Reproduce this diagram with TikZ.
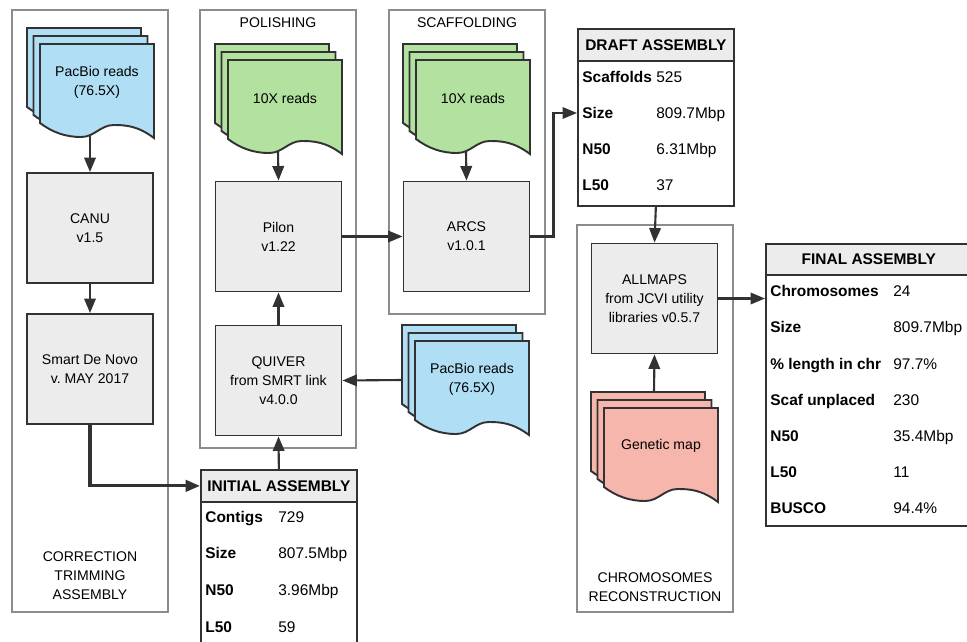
\documentclass[tikz,border=0pt]{standalone}
\usepackage{fontspec}
\setmainfont{Liberation Sans}
\usepackage{tikz}
\usetikzlibrary{positioning,arrows.meta,calc}
\definecolor{edge}{RGB}{50,50,50}
\definecolor{framec}{RGB}{140,140,140}
\definecolor{boxbg}{RGB}{236,236,236}
\definecolor{pacblue}{RGB}{176,223,245}
\definecolor{tengreen}{RGB}{178,225,160}
\definecolor{mappink}{RGB}{247,182,172}
\tikzset{
  frm/.style={draw=framec,line width=0.6pt},
  lbl/.style={align=center,font=\fontsize{8}{10.8}\selectfont},
  proc/.style={draw=edge,fill=boxbg,line width=1.1pt,minimum width=2.52cm,minimum height=2.2cm,align=center,font=\fontsize{8}{10.8}\selectfont},
  sheet/.style={draw=edge,line width=1.1pt},
  doctext/.style={align=center,font=\fontsize{8}{10.8}\selectfont},
  tab/.style={draw=edge,line width=1pt,fill=white,anchor=north west,inner sep=0pt},
  thead/.style={draw=edge,line width=1pt,fill=boxbg,anchor=north west,inner sep=0pt,font=\fontsize{8.8}{10}\selectfont\bfseries},
  tkey/.style={anchor=west,inner sep=0pt,text height=6.3pt,text depth=0pt,font=\fontsize{8.8}{10}\selectfont\bfseries},
  tval/.style={anchor=west,inner sep=0pt,text height=6.3pt,text depth=0pt,font=\fontsize{8.8}{10}\selectfont},
  ar/.style={-{Triangle[length=2.9mm,width=2.3mm]},line width=1.2pt,draw=edge},
}
% stack of three document sheets: name, x, y, colour, text
\newcommand{\docstack}[5]{%
  \begin{scope}[shift={(#2,#3)}]
    \foreach \d in {0,1,2}{
      \begin{scope}[shift={(6.5*\d,8*\d)}]
        \draw[sheet,fill=#4] (0,0) -- (114,0) -- (114,94)
          .. controls (98,82) and (86,81) .. (74,81)
          .. controls (60,81) and (55,93) .. (41,93)
          .. controls (25,93) and (12,88) .. (0,79) -- cycle;
      \end{scope}
    }
    \node[doctext] (#1) at (70,54) {#5};
    \coordinate (#1-s) at (63,108);
    \coordinate (#1-n) at (63,0);
    \coordinate (#1-w) at (0,55);
  \end{scope}}

\begin{document}
\begin{tikzpicture}[x=0.02cm,y=-0.02cm]
  \useasboundingbox (0,0) rectangle (967,642);
  % stage frames
  \draw[frm] (12,10) rectangle (168,612);
  \draw[frm] (200,10) rectangle (356,448);
  \draw[frm] (389,10) rectangle (545,314);
  \draw[frm] (577,225) rectangle (733,612);
  \node[lbl] (lcor) at (90,576) {CORRECTION\\TRIMMING\\ASSEMBLY};
  \node[lbl] (lpol) at (278,23) {POLISHING};
  \node[lbl] (lsca) at (467,23) {SCAFFOLDING};
  \node[lbl] (lchr) at (655,587) {CHROMOSOMES\\RECONSTRUCTION};

  % input data
  \docstack{pacl}{27}{28}{pacblue}{PacBio reads\\(76.5X)}
  \docstack{tenp}{215}{44}{tengreen}{10X reads}
  \docstack{tens}{403}{44}{tengreen}{10X reads}
  \docstack{pacr}{402}{325}{pacblue}{PacBio reads\\(76.5X)}
  \docstack{gmap}{591}{392}{mappink}{Genetic map}

  % tools
  \node[proc] (canu) at (90,228) {CANU\\v1.5};
  \node[proc] (smart) at (90,369) {Smart De Novo\\v.\ MAY 2017};
  \node[proc] (pilon) at (278.5,236.5) {Pilon\\v1.22};
  \node[proc] (quiver) at (278.5,380.5) {QUIVER\\from SMRT link\\v4.0.0};
  \node[proc] (arcs) at (466.5,236.5) {ARCS\\v1.0.1};
  \node[proc] (allmaps) at (654.5,298.5) {ALLMAPS\\from JCVI utility\\libraries v0.5.7};

  % assembly tables
  \node[tab,minimum width=3.12cm,minimum height=3.6cm] (itab) at (200,469) {};
  \node[thead,minimum width=3.12cm,minimum height=0.64cm] (ihead) at (200,469) {INITIAL ASSEMBLY};
  \foreach \k/\v [count=\i] in {Contigs/729,Size/807.5Mbp,N50/3.96Mbp,L50/59}{
    \node[tkey] (i\i) at (205,480+36.7*\i) {\k};
    \node[tval] (iv\i) at (278,480+36.7*\i) {\v};
  }
  \node[tab,minimum width=3.12cm,minimum height=3.54cm] (dtab) at (577,28) {};
  \node[thead,minimum width=3.12cm,minimum height=0.64cm] (dhead) at (577,28) {DRAFT ASSEMBLY};
  \foreach \k/\v [count=\i] in {Scaffolds/525,Size/809.7Mbp,N50/6.31Mbp,L50/37}{
    \node[tkey] (d\i) at (582,41+36*\i) {\k};
    \node[tval] (dv\i) at (656,41+36*\i) {\v};
  }
  \node[tab,minimum width=4.12cm,minimum height=5.64cm] (ftab) at (765,243) {};
  \node[thead,minimum width=4.12cm,minimum height=0.62cm] (fhead) at (765,243) {FINAL ASSEMBLY};
  \foreach \k/\v [count=\i] in {Chromosomes/24,Size/809.7Mbp,\% length in chr/97.7\%,Scaf unplaced/230,N50/35.4Mbp,L50/11,BUSCO/94.4\%}{
    \node[tkey] (f\i) at (770,255+36.2*\i) {\k};
    \node[tval] (fv\i) at (893,255+36.2*\i) {\v};
  }

  % flow
  \draw[ar] (pacl-s) -- (canu.north);
  \draw[ar] (canu.south) -- (smart.north);
  \draw[ar,line width=1.8pt] (smart.south) |- (ihead.west);
  \draw[ar] (tenp-s) -- (pilon.north);
  \draw[ar] (ihead.north) -- (quiver.south);
  \draw[ar] (quiver.north) -- (pilon.south);
  \draw[ar] (pacr-w) -- (quiver.east);
  \draw[ar] (tens-s) -- (arcs.north);
  \draw[ar] (pilon.east) -- (arcs.west);
  \draw[ar] (arcs.east) -- ++(23,0) |- (dtab.west |- d2);
  \draw[ar] (dtab.south) -- (allmaps.north);
  \draw[ar] (gmap-n) -- (allmaps.south);
  \draw[ar] (allmaps.east) -- (ftab.west |- allmaps.east);
\end{tikzpicture}
\end{document}
